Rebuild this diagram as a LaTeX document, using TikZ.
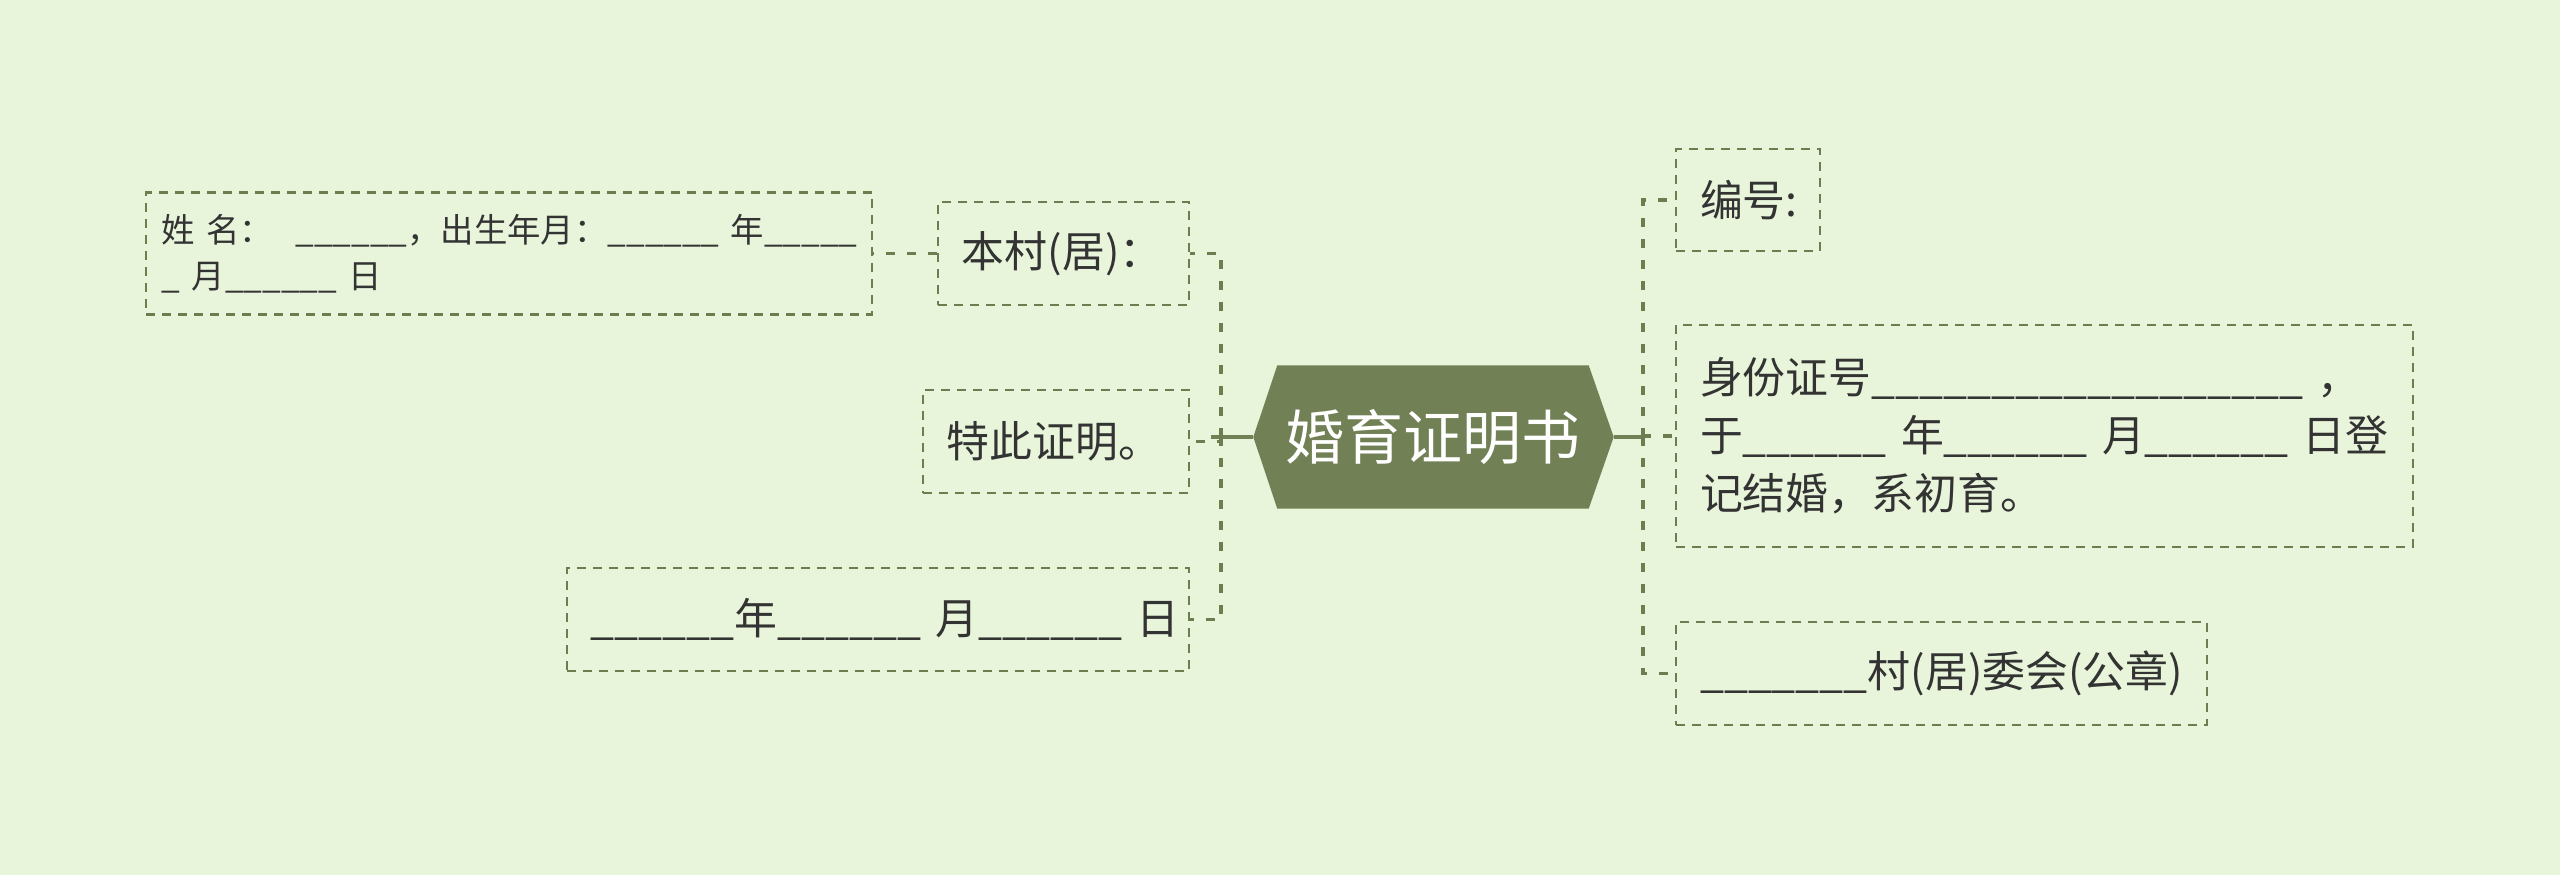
\documentclass[tikz,border=0pt]{standalone}
\usepackage{fontspec}
\usepackage{tikz}
\usetikzlibrary{positioning,backgrounds,calc}
\newfontfamily\cjkfont{Noto Sans CJK SC}
\definecolor{mapBg}{HTML}{E8F5DA}
\definecolor{mapOlive}{HTML}{728155}
\definecolor{mapLine}{HTML}{6E7D4F}
\definecolor{mapText}{HTML}{333333}
\newcommand\blk[1]{\count255=#1\relax\loop\ifnum\count255>0 \_\advance\count255 -1 \repeat}

\begin{document}
\begin{tikzpicture}[
  topic/.style={
    rectangle, inner sep=0pt,
    minimum width=3.1cm, minimum height=1.42cm,
    font=\cjkfont\fontsize{16.8}{20}\selectfont, text=white
  },
  leaf/.style={
    rectangle, draw=mapLine, dash pattern=on 0.09cm off 0.07cm,
    line width=0.6pt, inner xsep=0.24cm, inner ysep=0pt,
    align=left, text=mapText,
    font=\cjkfont\fontsize{12.2}{16.5}\selectfont
  },
  branch/.style={mapLine, line width=1.1pt, dash pattern=on 0.09cm off 0.12cm},
  stem/.style={mapOlive, line width=1.2pt}
]
\useasboundingbox (0,0) rectangle (25.6,-8.75);

% Central topic
\node[topic] (root) at (14.33,-4.37) {婚育证明书};
\coordinate (lj) at (12.21,-4.37);
\coordinate (rj) at (16.43,-4.37);

% Left side
\node[leaf, text width=2.03cm, minimum height=1.03cm, anchor=east]
  (benc) at (11.90,-2.535) {本村(居)：};
\node[leaf, left=0.64cm of benc, inner xsep=0.16cm, text width=6.94cm,
  minimum height=1.22cm, font=\cjkfont\fontsize{9.5}{13}\selectfont]
  (info) {姓~名：~~\blk{6}，出生年月：\blk{6}~年\blk{5}\\\_~月\blk{6}~日};
\node[leaf, text width=2.18cm, minimum height=1.03cm, anchor=east]
  (cert) at (11.90,-4.415) {特此证明。};
\node[leaf, text width=5.74cm, minimum height=1.03cm, anchor=east]
  (date) at (11.90,-6.195) {\blk{6}年\blk{6}~月\blk{6}~日};

% Right side
\node[leaf, text width=0.96cm, minimum height=1.02cm, anchor=west]
  (num) at (16.75,-2.00) {编号:};
\node[leaf, text width=6.89cm, minimum height=2.22cm, anchor=west]
  (idno) at (16.75,-4.36)
  {身份证号\blk{18}~，\\于\blk{6}~年\blk{6}~月\blk{6}~日登\\记结婚，系初育。};
\node[leaf, text width=4.83cm, minimum height=1.03cm, anchor=west]
  (seal) at (16.75,-6.735) {\blk{7}村(居)委会(公章)};

% Connectors
\draw[stem] ($(root.west)+(-0.24,0)$) -- ($(lj)+(-0.1,0)$);
\draw[stem] ($(root.east)+(0.25,0)$) -- (rj);
\draw[branch] (lj) |- (benc.east);
\draw[branch] (lj) |- (cert.east);
\draw[branch] (lj) |- (date.east);
\draw[branch] (benc.west) -- (info.east);
\draw[branch] (rj) |- (num.west);
\draw[branch] (rj) |- (idno.west);
\draw[branch] (rj) |- (seal.west);

\begin{scope}[on background layer]
\fill[mapBg] (0,0) rectangle (25.6,-8.75);
\fill[mapOlive] ($(root.west)+(-0.24,0)$) -- (root.north west)
  -- (root.north east) -- ($(root.east)+(0.25,0)$)
  -- (root.south east) -- (root.south west) -- cycle;
\end{scope}
\end{tikzpicture}
\end{document}
